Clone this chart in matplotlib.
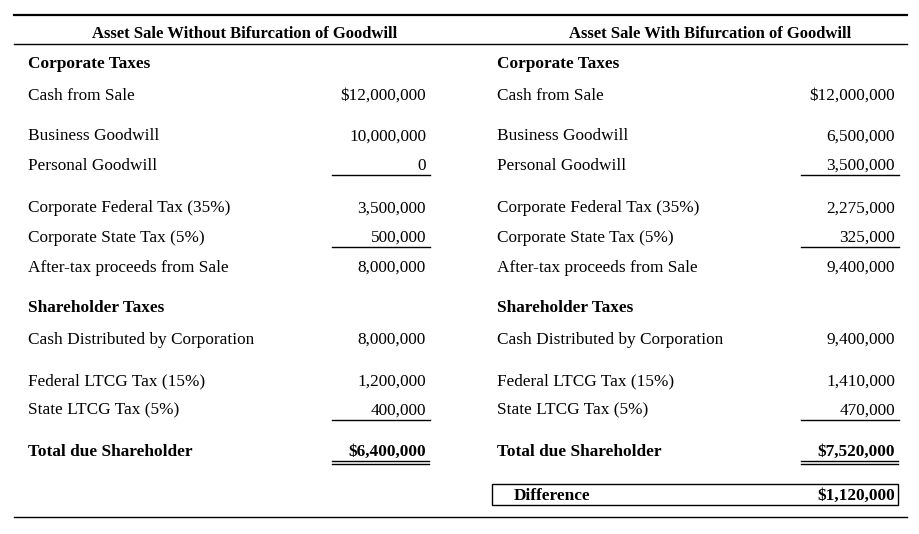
import matplotlib.pyplot as plt
from matplotlib.patches import Rectangle

# table content
titles = ["Asset Sale Without Bifurcation of Goodwill",
          "Asset Sale With Bifurcation of Goodwill"]
row_labels = ["Corporate Taxes", "Cash from Sale", "Business Goodwill", "Personal Goodwill",
              "Corporate Federal Tax (35%)", "Corporate State Tax (5%)",
              "After-tax proceeds from Sale", "Shareholder Taxes",
              "Cash Distributed by Corporation", "Federal LTCG Tax (15%)",
              "State LTCG Tax (5%)", "Total due Shareholder"]
values_without = ["", "$12,000,000", "10,000,000", "0", "3,500,000", "500,000",
                  "8,000,000", "", "8,000,000", "1,200,000", "400,000", "$6,400,000"]
values_with = ["", "$12,000,000", "6,500,000", "3,500,000", "2,275,000", "325,000",
               "9,400,000", "", "9,400,000", "1,410,000", "470,000", "$7,520,000"]
bold_rows = ["Corporate Taxes", "Shareholder Taxes", "Total due Shareholder"]
underlined = ["Personal Goodwill", "Corporate State Tax (5%)", "State LTCG Tax (5%)"]
double_underlined = ["Total due Shareholder"]
diff_label = "Difference"
diff_value = "$1,120,000"

row_y = [63, 94, 135, 164, 207, 236, 266, 307, 338, 380, 409, 450]

plt.rcParams['font.family'] = ['Liberation Serif', 'DejaVu Serif']

fig = plt.figure(figsize=(9.2, 5.34), dpi=100)
ax = fig.add_axes([0, 0, 1, 1])
ax.set_xlim(0, 920)
ax.set_ylim(534, 0)
ax.axis('off')

fs = 12.4
base = 5.5  # baseline sits this far below row centre
# rules
ax.plot([14, 907], [15, 15], color='black', lw=1.6)
ax.plot([14, 907], [44, 44], color='black', lw=1.0)
ax.plot([14, 907], [517, 517], color='black', lw=1.0)

columns = [(28, 426, 245, values_without), (497, 895, 710, values_with)]
for (lx, rx, cx, vals), title in zip(columns, titles):
    ax.text(cx, 33 + base, title, ha='center', va='baseline', fontsize=fs - 0.4, fontweight='bold')
    for lab, val, y in zip(row_labels, vals, row_y):
        w = 'bold' if lab in bold_rows else 'normal'
        ax.text(lx, y + base, lab, ha='left', va='baseline', fontsize=fs, fontweight=w)
        if val:
            ax.text(rx, y + base, val, ha='right', va='baseline', fontsize=fs, fontweight=w)
        if lab in underlined:
            ax.plot([rx - 94, rx + 4], [y + 11, y + 11], color='black', lw=1.0)
        if lab in double_underlined:
            ax.plot([rx - 94, rx + 3], [y + 11, y + 11], color='black', lw=1.0)
            ax.plot([rx - 94, rx + 3], [y + 14, y + 14], color='black', lw=1.0)

ax.add_patch(Rectangle((492, 484), 406, 21, fill=False, edgecolor='black', lw=1.0))
ax.text(514, 494 + base, diff_label, ha='left', va='baseline', fontsize=fs, fontweight='bold')
ax.text(895, 494 + base, diff_value, ha='right', va='baseline', fontsize=fs, fontweight='bold')

fig.savefig('out.png', dpi=100)
